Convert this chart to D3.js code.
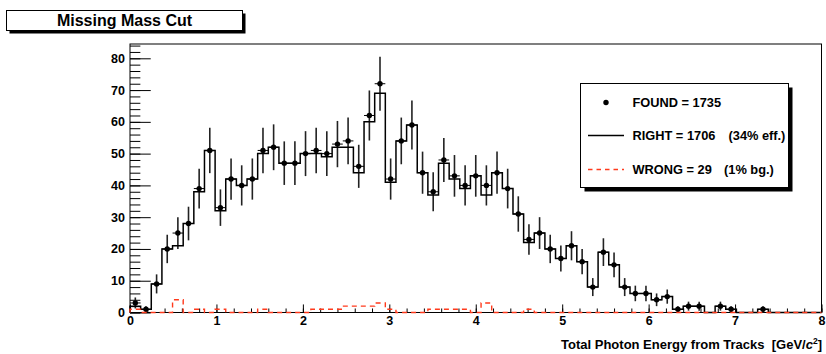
<!DOCTYPE html>
<html>
<head>
<meta charset="utf-8">
<script src="https://cdn.jsdelivr.net/npm/d3@7"></script>
<style>
  body { margin: 0; background: #fff; }
  text { font-family: "Liberation Sans", Arial, Helvetica, sans-serif; font-weight: bold; fill: #000; white-space: pre; }
</style>
</head>
<body>
<svg id="c" width="826" height="354"></svg>
<script>
// Histogram binning: 65 bins over 0..8 GeV/c^2
const nBins = 65;
const xMin = 0, xMax = 8;

// Events passing the missing-mass cut, per bin
const found = [3, 1, 9, 20, 25, 28, 39, 51, 33, 42,
               40, 42, 51, 52, 47, 47, 50, 51, 50, 53,
               54, 46, 62, 72, 42, 54, 59, 44, 38, 48,
               43, 40, 43, 40, 44, 39, 31, 23, 25, 20,
               17, 21, 16, 8, 19, 15, 8, 6, 6, 4,
               5, 1, 2, 2, 0, 2, 1, 0, 0, 1,
               0, 0, 0, 0, 0];

// Correctly reconstructed events
const right = [2, 1, 9, 20, 21, 28, 38, 51, 32, 42,
               40, 42, 50, 52, 47, 47, 50, 50, 49, 52,
               52, 44, 60, 69, 41, 54, 59, 44, 37, 47,
               42, 39, 43, 37, 44, 39, 31, 22, 25, 20,
               17, 21, 16, 8, 19, 15, 8, 6, 6, 4,
               5, 1, 2, 2, 0, 2, 1, 0, 0, 1,
               0, 0, 0, 0, 0];

// Wrong combinations (background)
const wrong = [1, 0, 0, 0, 4, 0, 1, 0, 1, 0,
               0, 0, 1, 0, 0, 0, 0, 1, 1, 1,
               2, 2, 2, 3, 1, 0, 0, 0, 1, 1,
               1, 1, 0, 3, 0, 0, 0, 1, 0, 0,
               0, 0, 0, 0, 0, 0, 0, 0, 0, 0,
               0, 0, 0, 0, 0, 0, 0, 0, 0, 0,
               0, 0, 0, 0, 0];

const xTicks = [0, 1, 2, 3, 4, 5, 6, 7, 8];
const yTicks = [0, 10, 20, 30, 40, 50, 60, 70, 80];
const yMaxAxis = 84.5;

const titleText = "Missing Mass Cut";
const nFound = d3.sum(found), nRight = d3.sum(right), nWrong = d3.sum(wrong);
const legendLabels = [
  ["FOUND = " + nFound, ""],
  ["RIGHT = " + nRight, "(34% eff.)"],
  ["WRONG = " + nWrong, "(1% bg.)"]
];

const W = 826, H = 354;
const frame = { left: 130, right: 821.5, top: 44, bottom: 312.5 };
const RED = "#ff3a1c";

const svg = d3.select("#c");
svg.append("rect").attr("width", W).attr("height", H).attr("fill", "#fff");

const x = d3.scaleLinear().domain([xMin, xMax]).range([frame.left, frame.right]);
const y = d3.scaleLinear().domain([0, yMaxAxis]).range([frame.bottom, frame.top]);
const bw = (xMax - xMin) / nBins;
const edge = i => xMin + i * bw;
const center = i => xMin + (i + 0.5) * bw;

// Frame
svg.append("rect")
  .attr("x", frame.left).attr("y", frame.top)
  .attr("width", frame.right - frame.left).attr("height", frame.bottom - frame.top)
  .attr("fill", "none").attr("stroke", "#000").attr("stroke-width", 1);

// Axes: ticks point into the frame
const xLen = frame.right - frame.left, yLen = frame.bottom - frame.top;
const gx = svg.append("g").attr("transform", `translate(0,${frame.bottom})`);
gx.call(d3.axisBottom(x).tickValues(d3.range(0, 41).map(k => k * 0.2)).tickSizeInner(-0.015 * yLen).tickSizeOuter(0).tickFormat(""));
gx.call(g => g.selectAll(".domain").remove());
const gx2 = svg.append("g").attr("transform", `translate(0,${frame.bottom})`);
gx2.call(d3.axisBottom(x).tickValues(xTicks).tickSizeInner(-0.03 * yLen).tickSizeOuter(0).tickPadding(4).tickFormat(d3.format("d")));
gx2.select(".domain").remove();
gx2.selectAll("text").style("font-size", "12.5px");

const gy = svg.append("g").attr("transform", `translate(${frame.left},0)`);
gy.call(d3.axisLeft(y).tickValues(d3.range(0, 43).map(k => k * 2)).tickSizeInner(-0.015 * xLen).tickSizeOuter(0).tickFormat(""));
gy.select(".domain").remove();
const gy2 = svg.append("g").attr("transform", `translate(${frame.left},0)`);
gy2.call(d3.axisLeft(y).tickValues(yTicks).tickSizeInner(-0.03 * xLen).tickSizeOuter(0).tickPadding(5).tickFormat(d3.format("d")));
gy2.select(".domain").remove();
gy2.selectAll("text").style("font-size", "12.5px");
svg.selectAll(".tick line").attr("stroke", "#000").attr("stroke-width", 1);

// Step outline for a histogram
function stepPath(values) {
  const pts = [[x(edge(0)), y(0)]];
  values.forEach((v, i) => {
    pts.push([x(edge(i)), y(v)]);
    pts.push([x(edge(i + 1)), y(v)]);
  });
  pts.push([x(edge(values.length)), y(0)]);
  return d3.line()(pts);
}

const plot = svg.append("g");

// Found: points with sqrt(N) errors
const pts = found.map((v, i) => ({ i, v })).filter(d => d.v > 0);
plot.selectAll("line.ey").data(pts).join("line").attr("class", "ey")
  .attr("x1", d => x(center(d.i))).attr("x2", d => x(center(d.i)))
  .attr("y1", d => y(d.v + Math.sqrt(d.v))).attr("y2", d => y(Math.max(0, d.v - Math.sqrt(d.v))))
  .attr("stroke", "#222").attr("stroke-width", 1.6);
plot.selectAll("line.ex").data(pts).join("line").attr("class", "ex")
  .attr("x1", d => x(edge(d.i))).attr("x2", d => x(edge(d.i + 1)))
  .attr("y1", d => y(d.v)).attr("y2", d => y(d.v))
  .attr("stroke", "#000").attr("stroke-width", 1);

// Right: solid step histogram
plot.append("path").attr("d", stepPath(right))
  .attr("fill", "none").attr("stroke", "#000").attr("stroke-width", 1.5);

plot.selectAll("circle.pt").data(pts).join("circle").attr("class", "pt")
  .attr("cx", d => x(center(d.i))).attr("cy", d => y(d.v)).attr("r", 2.7)
  .attr("fill", "#000");

// Wrong: red dashed step histogram
plot.append("path").attr("d", stepPath(wrong))
  .attr("fill", "none").attr("stroke", RED).attr("stroke-width", 1.4)
  .attr("stroke-dasharray", "5,4");

// Title box with shadow
svg.append("rect").attr("x", 9.5).attr("y", 13.5).attr("width", 236).attr("height", 20).attr("fill", "#000");
svg.append("rect").attr("x", 6.5).attr("y", 10.5).attr("width", 236).attr("height", 20)
  .attr("fill", "#fff").attr("stroke", "#000").attr("stroke-width", 1);
svg.append("text").attr("x", 124.5).attr("y", 26).attr("text-anchor", "middle")
  .style("font-size", "16px").text(titleText);

// Legend box with shadow
const lg = { x: 580.5, y: 83.5, w: 208, h: 104 };
svg.append("rect").attr("x", lg.x + 4).attr("y", lg.y + 4).attr("width", lg.w).attr("height", lg.h).attr("fill", "#000");
svg.append("rect").attr("x", lg.x).attr("y", lg.y).attr("width", lg.w).attr("height", lg.h)
  .attr("fill", "#fff").attr("stroke", "#000").attr("stroke-width", 1);

const rowY = [102.5, 135.5, 169.5];
svg.append("circle").attr("cx", 606).attr("cy", rowY[0]).attr("r", 2.7).attr("fill", "#000");
svg.append("line").attr("x1", 588).attr("x2", 624).attr("y1", rowY[1]).attr("y2", rowY[1])
  .attr("stroke", "#000").attr("stroke-width", 1.5);
svg.append("line").attr("x1", 588).attr("x2", 624).attr("y1", rowY[2]).attr("y2", rowY[2])
  .attr("stroke", RED).attr("stroke-width", 1.5).attr("stroke-dasharray", "4.5,4");

const noteX = [0, 728.5, 724];
legendLabels.forEach((lab, k) => {
  svg.append("text").attr("x", 632.5).attr("y", rowY[k] + 4.4).style("font-size", "12.8px").text(lab[0]);
  if (lab[1]) svg.append("text").attr("x", noteX[k]).attr("y", rowY[k] + 4.4).style("font-size", "12.8px").text(lab[1]);
});

// X-axis title
const xt = svg.append("text").attr("x", 822).attr("y", 349).attr("text-anchor", "end").style("font-size", "13px");
xt.append("tspan").text("Total Photon Energy from Tracks  [GeV/");
xt.append("tspan").style("font-style", "italic").text("c");
xt.append("tspan").attr("dy", -5).style("font-size", "8.5px").text("2");
xt.append("tspan").attr("dy", 5).text("]");
</script>
</body>
</html>
